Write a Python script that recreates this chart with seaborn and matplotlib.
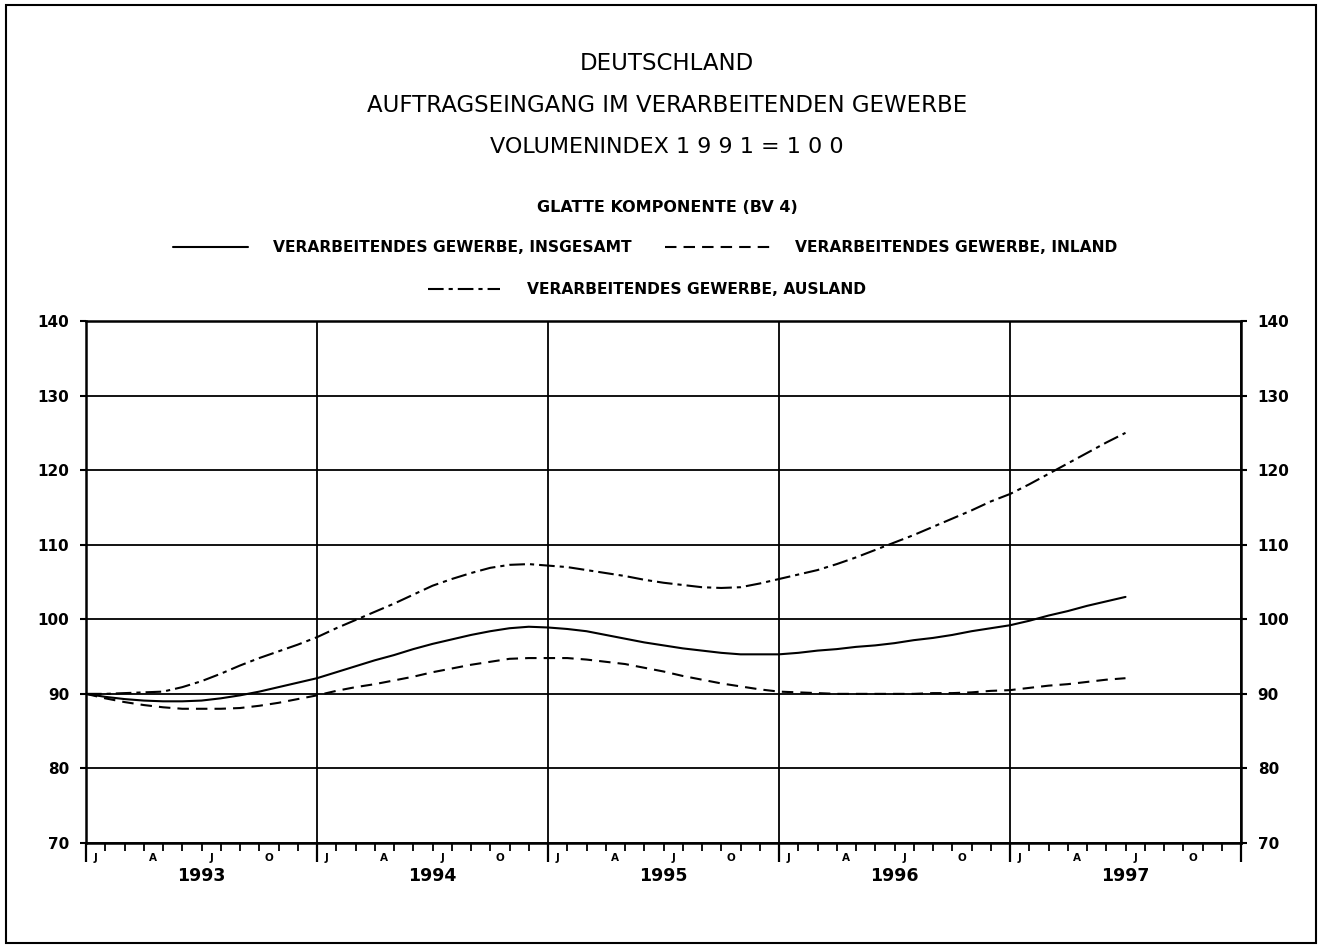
import numpy as np
import pandas as pd
import matplotlib.pyplot as plt
import seaborn as sns
from matplotlib.lines import Line2D
from matplotlib.patches import Rectangle
from matplotlib.ticker import FixedLocator

# months since Jan 1993 (0 = Jan 1993, 54 = Jul 1997)
months = list(range(55))

insgesamt = [90.0, 89.6, 89.3, 89.1, 89.0, 89.0, 89.1, 89.4, 89.8, 90.3,
             90.9, 91.5, 92.1, 92.9, 93.7, 94.5, 95.2, 96.0, 96.7, 97.3,
             97.9, 98.4, 98.8, 99.0, 98.9, 98.7, 98.4, 97.9, 97.4, 96.9,
             96.5, 96.1, 95.8, 95.5, 95.3, 95.3, 95.3, 95.5, 95.8, 96.0,
             96.3, 96.5, 96.8, 97.2, 97.5, 97.9, 98.4, 98.8, 99.2, 99.8,
             100.5, 101.1, 101.8, 102.4, 103.0]

inland = [90.0, 89.4, 88.9, 88.5, 88.2, 88.0, 88.0, 88.0, 88.1, 88.4,
          88.8, 89.3, 89.8, 90.4, 90.9, 91.3, 91.8, 92.3, 92.9, 93.4,
          93.9, 94.3, 94.7, 94.8, 94.8, 94.8, 94.6, 94.3, 94.0, 93.5,
          93.0, 92.4, 91.9, 91.4, 91.0, 90.6, 90.3, 90.2, 90.1, 90.0,
          90.0, 90.0, 90.0, 90.0, 90.1, 90.1, 90.2, 90.4, 90.5, 90.8,
          91.1, 91.3, 91.6, 91.9, 92.1]

ausland = [90.0, 90.0, 90.1, 90.2, 90.3, 90.9, 91.7, 92.7, 93.8, 94.8,
           95.7, 96.6, 97.6, 98.8, 99.9, 101.0, 102.1, 103.3, 104.5, 105.4,
           106.2, 106.9, 107.3, 107.4, 107.2, 107.0, 106.6, 106.2, 105.8, 105.3,
           104.9, 104.6, 104.3, 104.2, 104.3, 104.8, 105.4, 106.0, 106.6, 107.4,
           108.3, 109.3, 110.3, 111.3, 112.4, 113.5, 114.6, 115.8, 116.8, 118.1,
           119.5, 120.9, 122.3, 123.7, 125.0]

years = ["1993", "1994", "1995", "1996", "1997"]
quarter_letters = ["J", "A", "J", "O"]
y_ticks = [70, 80, 90, 100, 110, 120, 130, 140]

names = ["VERARBEITENDES GEWERBE, INSGESAMT",
         "VERARBEITENDES GEWERBE, INLAND",
         "VERARBEITENDES GEWERBE, AUSLAND"]

df = pd.DataFrame({
    "monat": months * 3,
    "wert": insgesamt + inland + ausland,
    "reihe": np.repeat(names, len(months)),
})

sns.set_style("white")
plt.rcParams["font.family"] = ["DejaVu Sans"]
plt.rcParams["text.color"] = "black"
plt.rcParams["xtick.color"] = "black"
plt.rcParams["ytick.color"] = "black"

dash_styles = {names[0]: "", names[1]: (5.5, 3.4), names[2]: (7.5, 2.4, 2.0, 2.4)}
LW = 1.5

fig = plt.figure(figsize=(13.21, 9.47), dpi=100)
ax = fig.add_axes([86 / 1321, 1 - 843 / 947, (1241 - 86) / 1321, (843 - 321) / 947])

sns.lineplot(data=df, x="monat", y="wert", style="reihe", style_order=names,
             dashes=dash_styles, color="black", linewidth=LW,
             legend=False, errorbar=None, ax=ax)

ax.set_xlim(0, 60)
ax.set_ylim(70, 140)
ax.set_xlabel("")
ax.set_ylabel("")

# y axis: labels on both sides
ax.set_yticks(y_ticks)
ax.tick_params(axis="y", which="major", left=True, right=True,
               labelleft=True, labelright=True, direction="out",
               length=4, width=1.5, labelsize=11, pad=8)
for t in ax.yaxis.get_major_ticks():
    t.label1.set_fontweight("bold")
    t.label2.set_fontweight("bold")

# x axis: year ticks long, month ticks short
ax.set_xticks(range(0, 61, 12))
ax.set_xticklabels([])
ax.xaxis.set_minor_locator(FixedLocator([m for m in range(60) if m % 12]))
ax.tick_params(axis="x", which="major", bottom=True, direction="out",
               length=13.5, width=1.6)
ax.tick_params(axis="x", which="minor", bottom=True, direction="out",
               length=5.5, width=1.3)

ax.grid(True, which="major", color="black", linewidth=1.3)
for sp in ax.spines.values():
    sp.set_color("black")
    sp.set_linewidth(1.8)

xt = ax.get_xaxis_transform()
for k, yr in enumerate(years):
    for q, letter in enumerate(quarter_letters):
        ax.text(12 * k + 3 * q + 0.5, -0.029, letter, transform=xt,
                ha="center", va="center", fontsize=7.5, fontweight="bold")
    ax.text(12 * k + 6, -0.064, yr, transform=xt, ha="center", va="center",
            fontsize=12.5, fontweight="bold")

# titles
fig.text(0.505, 1 - 64 / 947, "DEUTSCHLAND", ha="center", va="center", fontsize=16.5)
fig.text(0.505, 1 - 105 / 947, "AUFTRAGSEINGANG IM VERARBEITENDEN GEWERBE",
         ha="center", va="center", fontsize=16.5)
fig.text(0.505, 1 - 147 / 947, "VOLUMENINDEX 1 9 9 1 = 1 0 0",
         ha="center", va="center", fontsize=16)
fig.text(0.505, 1 - 207 / 947, "GLATTE KOMPONENTE (BV 4)",
         ha="center", va="center", fontsize=11.5, fontweight="bold")

# legend drawn by hand
legend_rows = [
    (names[0], 173, 248, 273, 247),
    (names[1], 665, 775, 795, 247),
    (names[2], 428, 500, 527, 289),
]
for name, x0, x1, xl, yp in legend_rows:
    yf = 1 - yp / 947
    ln = Line2D([x0 / 1321, x1 / 1321], [yf, yf], transform=fig.transFigure,
                color="black", linewidth=LW)
    if dash_styles[name]:
        ln.set_dashes(dash_styles[name])
    fig.add_artist(ln)
    fig.text(xl / 1321, yf, name, ha="left", va="center",
             fontsize=11.2, fontweight="bold")

fig.add_artist(Rectangle((6 / 1321, 4 / 947), 1310 / 1321, 938 / 947,
                         transform=fig.transFigure, fill=False,
                         edgecolor="black", linewidth=1.5))

fig.savefig("out.png", dpi=100)
